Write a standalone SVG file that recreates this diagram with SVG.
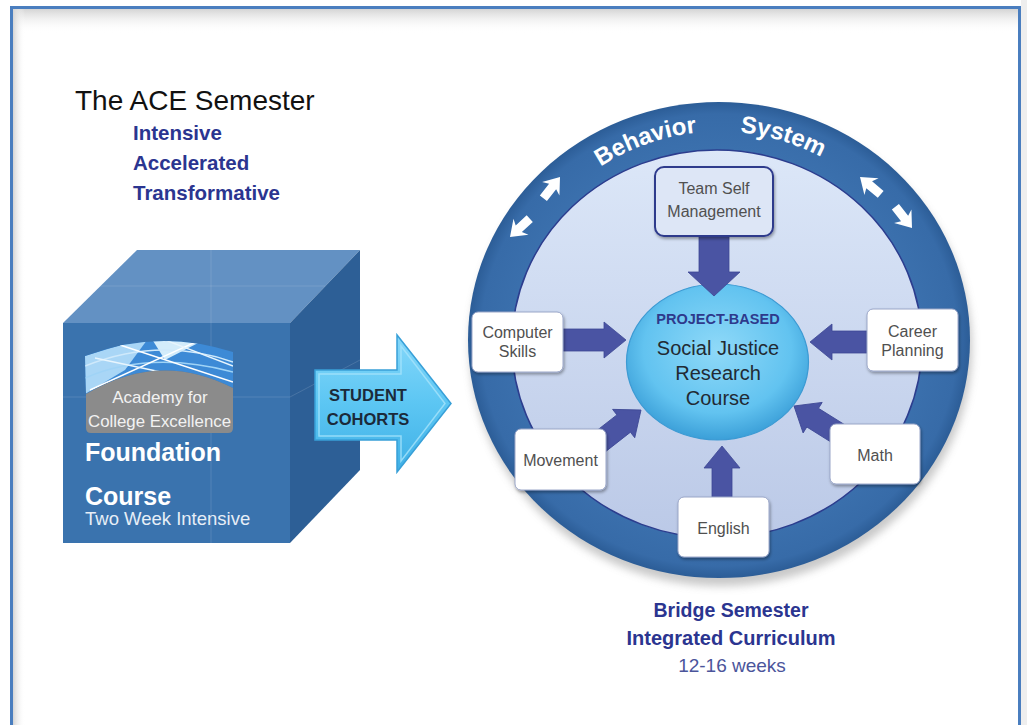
<svg xmlns="http://www.w3.org/2000/svg" xmlns:xlink="http://www.w3.org/1999/xlink" width="1027" height="725" viewBox="0 0 1027 725">
<defs>
<style>
.t{font-family:"Liberation Sans",Arial,sans-serif}
.box{fill:#fff;stroke:#9aa6c8;stroke-width:1}
.bt{font-family:"Liberation Sans",Arial,sans-serif;font-size:16px;fill:#505050;text-anchor:middle}
.blk{fill:#4a54a3;stroke:#3d4794;stroke-width:0.8}
.navy{fill:#2b3590;font-weight:bold}
</style>
<linearGradient id="gTop" x1="0" y1="0" x2="0" y2="1"><stop offset="0" stop-color="#d4d4d4"/><stop offset="1" stop-color="#fff" stop-opacity="0"/></linearGradient>
<linearGradient id="gLeft" x1="0" y1="0" x2="1" y2="0"><stop offset="0" stop-color="#d4d4d4"/><stop offset="1" stop-color="#fff" stop-opacity="0"/></linearGradient>
<radialGradient id="gRing" cx="0.5" cy="0.5" r="0.5"><stop offset="0.8" stop-color="#3b70ad"/><stop offset="0.95" stop-color="#376ba8"/><stop offset="1" stop-color="#2c5d97"/></radialGradient>
<linearGradient id="gInner" x1="0" y1="0" x2="0" y2="1"><stop offset="0" stop-color="#dce7f8"/><stop offset="1" stop-color="#bbc9e7"/></linearGradient>
<radialGradient id="gCore" cx="0.5" cy="0.42" r="0.58"><stop offset="0" stop-color="#8fd9f8"/><stop offset="0.7" stop-color="#62c3f0"/><stop offset="1" stop-color="#3b9fd8"/></radialGradient>
<linearGradient id="gArrow" x1="0" y1="0" x2="0" y2="1"><stop offset="0" stop-color="#86d8fa"/><stop offset="0.5" stop-color="#5cc6f3"/><stop offset="1" stop-color="#3fb0e6"/></linearGradient>
<filter id="sh" x="-20%" y="-20%" width="140%" height="150%"><feDropShadow dx="1" dy="2" stdDeviation="1.5" flood-color="#000" flood-opacity="0.35"/></filter>
<filter id="blur" x="-10%" y="-10%" width="120%" height="130%"><feGaussianBlur stdDeviation="4"/></filter>
<path id="wa" d="M0,0 L-15,-11 L-12,-4.5 L-27,-4.5 L-27,4.5 L-12,4.5 L-15,11 Z" fill="#fff"/>
<path id="arcBS" d="M567.7,193.3 A216,216 0 0,1 870.3,193.3" fill="none"/>
<clipPath id="swClip"><path d="M85,356 Q158,328 233,352 L233,388 Q160,350 86,394 Z"/></clipPath>
</defs>

<!-- frame -->
<rect x="0" y="0" width="1027" height="725" fill="#fff"/>
<rect x="1021" y="0" width="6" height="725" fill="#eeeeee"/>
<rect x="13" y="9" width="1005" height="24" fill="url(#gTop)"/>
<rect x="13" y="9" width="12" height="716" fill="url(#gLeft)"/>
<rect x="11.5" y="7.5" width="1008" height="730" fill="none" stroke="#4a7ebf" stroke-width="3"/>

<!-- title -->
<g id="title">
<text class="t" x="75" y="110" font-size="28" fill="#111">The ACE Semester</text>
<text class="t navy" x="133" y="140" font-size="20.5">Intensive</text>
<text class="t navy" x="133" y="170" font-size="20.5">Accelerated</text>
<text class="t navy" x="133" y="200" font-size="20.5">Transformative</text>
</g>

<!-- cube -->
<g id="foundation">
<polygon points="63,323 137,250 360,250 290,323" fill="#6391c3"/>
<polygon points="290,323 360,250 360,470 290,543" fill="#2d5f96"/>
<rect x="63" y="323" width="227" height="220" fill="#3a73ae"/>
<g stroke="#fff" stroke-opacity="0.13" stroke-width="1">
<line x1="211" y1="250" x2="211" y2="543"/>
<line x1="63" y1="397" x2="290" y2="397"/>
<line x1="100" y1="286" x2="325" y2="286"/>
<line x1="290" y1="397" x2="360" y2="360"/>
</g>
<path d="M85,356 Q158,328 233,352 L233,388 Q160,350 86,394 Z" fill="#3d8ad6"/>
<g clip-path="url(#swClip)" fill="none" stroke-width="1.4">
<polygon points="85,356 150,336 125,370 85,394" fill="#a9d6f6" stroke="none"/>
<polygon points="150,336 200,342 165,360" fill="#d3ecfb" stroke="none"/>
<path d="M85,366 Q160,336 233,362" stroke="#cfe9fb"/>
<path d="M85,378 Q150,350 233,372" stroke="#9fd3f6"/>
<line x1="90" y1="390" x2="200" y2="340" stroke="#fff"/>
<line x1="120" y1="345" x2="233" y2="382" stroke="#fff"/>
<line x1="160" y1="338" x2="233" y2="366" stroke="#e8f5fd"/>
<line x1="95" y1="358" x2="175" y2="375" stroke="#e8f5fd"/>
</g>
<path d="M86,394 Q160,350 233,388 L233,428 Q233,433 228,433 L91,433 Q86,433 86,428 Z" fill="#8b8b8b"/>
<text class="t" x="160" y="403" font-size="17" fill="#f2f2f2" text-anchor="middle">Academy for</text>
<text class="t" x="88" y="427" font-size="17" fill="#f2f2f2" textLength="143" lengthAdjust="spacingAndGlyphs">College Excellence</text>
<text class="t" x="85" y="461" font-size="25" font-weight="bold" fill="#fff">Foundation</text>
<text class="t" x="85" y="505" font-size="25" font-weight="bold" fill="#fff">Course</text>
<text class="t" x="85" y="525" font-size="18.5" fill="#e6eef7">Two Week Intensive</text>
</g>

<!-- student cohorts arrow -->
<g id="cohorts">
<polygon points="315,370 397,370 397,335 451,403.5 397,472 397,440 315,440" fill="url(#gArrow)" stroke="#38a0d8" stroke-width="1.5"/>
<polygon points="319,374 401,374 401,346 445,403.5 401,461 401,436 319,436" fill="none" stroke="#a6e3fb" stroke-width="1.5" stroke-opacity="0.8"/>
<text class="t" x="368" y="401" font-size="16.5" font-weight="bold" fill="#1b2a3a" text-anchor="middle">STUDENT</text>
<text class="t" x="368" y="425" font-size="16.5" font-weight="bold" fill="#1b2a3a" text-anchor="middle">COHORTS</text>
</g>

<!-- bridge semester circle -->
<g id="behavior-ring">
<ellipse cx="721" cy="348" rx="251" ry="238" fill="#777" opacity="0.4" filter="url(#blur)"/>
<ellipse cx="719" cy="340" rx="251" ry="238" fill="url(#gRing)"/>
<ellipse cx="717" cy="344" rx="205" ry="194" fill="url(#gInner)" stroke="#2c3d8e" stroke-width="1.5"/>
<text class="t" font-size="24" font-weight="bold" fill="#fff" text-anchor="middle"><textPath href="#arcBS" startOffset="28%">Behavior</textPath></text>
<text class="t" font-size="24" font-weight="bold" fill="#fff" text-anchor="middle"><textPath href="#arcBS" startOffset="69%">System</textPath></text>
<use href="#wa" transform="translate(560,177) rotate(-52)"/>
<use href="#wa" transform="translate(510,237) rotate(137)"/>
<use href="#wa" transform="translate(860,177) rotate(-140)"/>
<use href="#wa" transform="translate(912,228) rotate(52)"/>
</g>

<g id="core">
<ellipse cx="717.5" cy="362" rx="91" ry="78" fill="url(#gCore)" stroke="#3c9ad3" stroke-width="1.2"/>
<text class="t" x="718" y="324" font-size="14.5" font-weight="bold" fill="#2e3a8c" text-anchor="middle">PROJECT-BASED</text>
<text class="t" x="718" y="355" font-size="20" fill="#222a33" text-anchor="middle">Social Justice</text>
<text class="t" x="718" y="380" font-size="20" fill="#222a33" text-anchor="middle">Research</text>
<text class="t" x="718" y="405" font-size="20" fill="#222a33" text-anchor="middle">Course</text>
</g>

<!-- connectors -->
<g id="connectors">
<path class="blk" transform="translate(714,296) rotate(90)" d="M0,0 L-24,-26 L-24,-15 L-62,-15 L-62,15 L-24,15 L-24,26 Z"/>
<path class="blk" transform="translate(626,340) rotate(0)" d="M0,0 L-22,-18 L-22,-11 L-66,-11 L-66,11 L-22,11 L-22,18 Z"/>
<path class="blk" transform="translate(810,342) rotate(180)" d="M0,0 L-22,-18 L-22,-11 L-62,-11 L-62,11 L-22,11 L-22,18 Z"/>
<path class="blk" transform="translate(641,410) rotate(-38)" d="M0,0 L-22,-18 L-22,-11 L-58,-11 L-58,11 L-22,11 L-22,18 Z"/>
<path class="blk" transform="translate(794,406) rotate(-148)" d="M0,0 L-22,-18 L-22,-11 L-58,-11 L-58,11 L-22,11 L-22,18 Z"/>
<path class="blk" transform="translate(722,446) rotate(-90)" d="M0,0 L-22,-18 L-22,-10 L-56,-10 L-56,10 L-22,10 L-22,18 Z"/>
</g>

<!-- boxes -->
<g id="team-self">
<rect x="655" y="167" width="118" height="69" rx="9" fill="#dde6f6" stroke="#2e3a8c" stroke-width="2" filter="url(#sh)"/>
<text class="bt" x="714" y="194">Team Self</text>
<text class="bt" x="714" y="217">Management</text>
</g>
<g id="computer">
<rect class="box" x="472" y="312" width="91" height="60" rx="6" filter="url(#sh)"/>
<text class="bt" x="517.5" y="338">Computer</text>
<text class="bt" x="517.5" y="357">Skills</text>
</g>
<g id="career">
<rect class="box" x="867" y="309" width="91" height="62" rx="6" filter="url(#sh)"/>
<text class="bt" x="912.5" y="337">Career</text>
<text class="bt" x="912.5" y="356">Planning</text>
</g>
<g id="movement">
<rect class="box" x="515" y="429" width="91" height="61" rx="6" filter="url(#sh)"/>
<text class="bt" x="560.5" y="466">Movement</text>
</g>
<g id="math">
<rect class="box" x="830" y="424" width="90" height="60" rx="6" filter="url(#sh)"/>
<text class="bt" x="875" y="461">Math</text>
</g>
<g id="english">
<rect class="box" x="678" y="497" width="91" height="60" rx="6" filter="url(#sh)"/>
<text class="bt" x="723.5" y="534">English</text>
</g>

<g id="caption">
<text class="t navy" x="731" y="617" font-size="19.5" text-anchor="middle">Bridge Semester</text>
<text class="t navy" x="731" y="645" font-size="20" text-anchor="middle">Integrated Curriculum</text>
<text class="t" x="732" y="672" font-size="19" fill="#4b559b" text-anchor="middle">12-16 weeks</text>
</g>
</svg>
